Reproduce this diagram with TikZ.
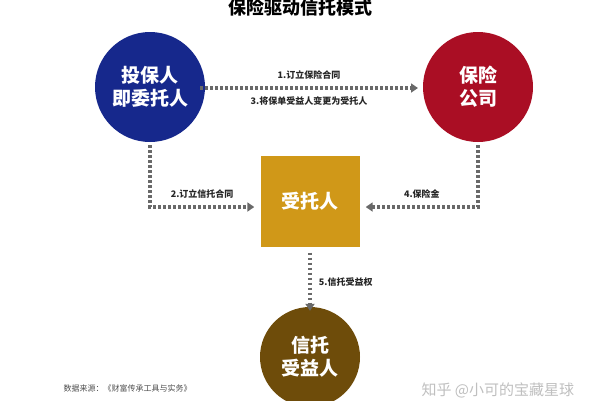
\documentclass[tikz,border=0pt]{standalone}
\usepackage{fontspec}
\setmainfont{Noto Sans CJK SC}
\usetikzlibrary{arrows.meta, positioning}

\begin{document}
\begin{tikzpicture}[%
    x=1pt, y=-1pt,
    >={Triangle[width=9pt,length=7pt]},
    partycircle/.style={circle, minimum size=110pt, inner sep=0pt, text=white,
        font=\bfseries\fontsize{19}{23}\selectfont, align=center},
    trusteebox/.style={minimum width=99pt, minimum height=91pt, inner sep=0pt,
        fill=trusteegold, text=white, font=\bfseries\fontsize{19}{23}\selectfont},
    flowline/.style={->, draw=flowgray, line width=3.2pt, dash pattern=on 2.6pt off 2.4pt},
    flowlabel/.style={font=\bfseries\fontsize{9}{11}\selectfont, text=black!85},
    ]
\definecolor{setterblue}{RGB}{22,40,140}
\definecolor{insurerred}{RGB}{170,14,36}
\definecolor{trusteegold}{RGB}{208,152,24}
\definecolor{beneficiarybrown}{RGB}{110,76,10}
\definecolor{flowgray}{RGB}{105,105,105}

\useasboundingbox (0,0) rectangle (600,400);

%==================================================
% Title and notes
%==================================================
\node[font=\bfseries\fontsize{18}{20}\selectfont] (title) at (300,8) {保险驱动信托模式};
\node[anchor=west, font=\fontsize{8}{10}\selectfont, text=black!70] (source) at (60,388) {数据来源：《财富传承工具与实务》};
\node[anchor=west, font=\fontsize{15}{17}\selectfont, text=black!25] (mark) at (418,390) {知乎 @小可的宝藏星球};

%==================================================
% Parties
%==================================================
\node[partycircle, fill=setterblue] (setter) at (150,87) {投保人\\即委托人};
\node[partycircle, fill=insurerred] (insurer) at (478,87) {保险\\公司};
\node[trusteebox] (trustee) at (310,201) {受托人};
\node[partycircle, minimum size=100pt, fill=beneficiarybrown] (beneficiary) at (310,357) {信托\\受益人};

%==================================================
% Arrows
%==================================================
\coordinate (setterA) at (200,88);
\coordinate (insurerA) at (418,88);
\draw[flowline] (setterA) -- node[flowlabel, above=4pt]{1.订立保险合同}
    node[flowlabel, below=4pt]{3.将保单受益人变更为受托人} (insurerA);

\coordinate (setterB) at (150,145);
\coordinate (leftcorner) at (150,207);
\draw[flowline] (setterB) -- (leftcorner) -- node[flowlabel, above=4pt]{2.订立信托合同} ([xshift=-6pt]trustee.west |- leftcorner);

\coordinate (insurerB) at (478,145);
\coordinate (rightcorner) at (478,207);
\draw[flowline] (insurerB) -- (rightcorner) -- node[flowlabel, above=4pt]{4.保险金} ([xshift=6pt]trustee.east |- rightcorner);

\draw[flowline] (trustee.south) ++(0,6) coordinate (trusteeS) -- node[flowlabel, right=4pt]{5.信托受益权} ([yshift=-4pt]beneficiary.north);

\end{tikzpicture}
\end{document}
